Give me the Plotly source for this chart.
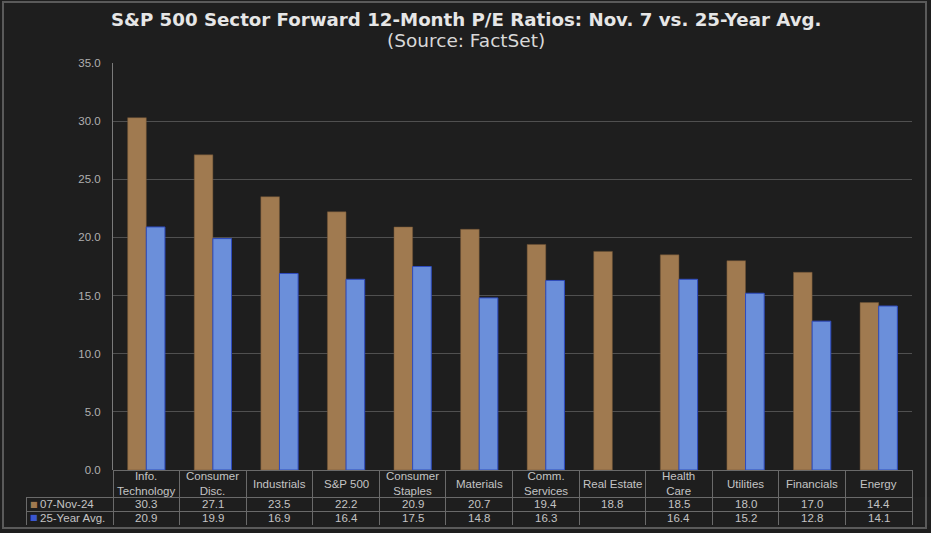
import plotly.graph_objects as go

W, H = 931, 533

categories = ["Info.<br>Technology", "Consumer<br>Disc.", "Industrials", "S&P 500",
              "Consumer<br>Staples", "Materials", "Comm.<br>Services", "Real Estate",
              "Health<br>Care", "Utilities", "Financials", "Energy"]
pe_nov7 = [30.3, 27.1, 23.5, 22.2, 20.9, 20.7, 19.4, 18.8, 18.5, 18.0, 17.0, 14.4]
pe_25yr = [20.9, 19.9, 16.9, 16.4, 17.5, 14.8, 16.3, None, 16.4, 15.2, 12.8, 14.1]
series_names = ["07-Nov-24", "25-Year Avg."]
y_ticks = [0, 5, 10, 15, 20, 25, 30, 35]

BG = "#1e1e1e"
BROWN = "#a07a50"
BLUE = "#6b8fda"
KEYBLUE = "#3a56d0"
GRID = "#505050"
TXT = "#b0b0b0"
CELLTXT = "#c4c4c4"
TLINE = "#6a6a6a"
CLEAR = "rgba(0,0,0,0)"
FONT = "Liberation Sans, Arial, sans-serif"

# plot geometry (pixels)
PL, PR, PT, PB = 113, 912, 63, 470
TL, TB = 26, 524
HEAD_H = 27
ROW_HS = [14, 13]

fig = go.Figure()
xs = list(range(len(categories)))
fig.add_trace(go.Bar(x=xs, y=pe_nov7, name=series_names[0],
                     marker=dict(color=BROWN, line=dict(color="#6e5234", width=0.5)),
                     showlegend=False))
fig.add_trace(go.Bar(x=xs, y=pe_25yr, name=series_names[1],
                     marker=dict(color=BLUE, line=dict(color="#2f4cbf", width=1)),
                     showlegend=False))

def fmt(v):
    return "" if v is None else f"{v:.1f}"

series_vals = [pe_nov7, pe_25yr]
ncol = len(categories) + 1
colw = [PL - TL] + [(PR - PL) / len(categories)] * len(categories)

# table grid (header row holds the category labels, two data rows)
fig.add_trace(go.Table(
    domain=dict(x=[TL / W, PR / W], y=[1 - (TB + 2) / H, 1 - PB / H]),
    columnwidth=colw,
    header=dict(values=[""] * ncol,
                height=HEAD_H,
                fill_color=[CLEAR] + [BG] * len(categories),
                line=dict(color=[CLEAR] + [TLINE] * len(categories), width=1)),
    cells=dict(values=[[""] * 2 for _ in range(ncol)],
               height=ROW_HS[0],
               fill_color=BG,
               line=dict(color=TLINE, width=1)),
))

annotations = [
    dict(text="<b>S&P 500 Sector Forward 12-Month P/E Ratios: Nov. 7 vs. 25-Year Avg.</b>",
         x=0.5, y=1 - 20 / H, xref="paper", yref="paper", yanchor="middle",
         showarrow=False,
         font=dict(family="DejaVu Sans, sans-serif", size=18.2, color="#e6e6e6")),
    dict(text="(Source: FactSet)",
         x=0.5, y=1 - 41 / H, xref="paper", yref="paper", yanchor="middle",
         showarrow=False,
         font=dict(family="DejaVu Sans, sans-serif", size=18.5, color="#d8d8d8")),
]
# category labels in the header row of the data table
for i, c in enumerate(categories):
    annotations.append(dict(text=c, x=i, xref="x", y=1 - (PB + HEAD_H / 2) / H,
                            yref="paper", yanchor="middle", showarrow=False,
                            align="center",
                            font=dict(family=FONT, size=11.5, color=CELLTXT)))
# data rows
row_centers = [PB + HEAD_H + ROW_HS[0] / 2, PB + HEAD_H + ROW_HS[0] + ROW_HS[1] / 2]
for r, (vals, name, keycol) in enumerate(zip(series_vals, series_names, [BROWN, KEYBLUE])):
    yc = 1 - row_centers[r] / H
    for i, v in enumerate(vals):
        if v is None:
            continue
        annotations.append(dict(text=fmt(v), x=i, xref="x", y=yc, yref="paper",
                                yanchor="middle", showarrow=False,
                                font=dict(family=FONT, size=11.5, color=CELLTXT)))
    annotations.append(dict(text=name, x=38 / W, xref="paper", xanchor="left",
                            y=yc, yref="paper", yanchor="middle", showarrow=False,
                            font=dict(family=FONT, size=11.5, color=CELLTXT)))
    annotations.append(dict(text="■", x=33.5 / W, xref="paper", xanchor="center",
                            y=yc, yref="paper", yanchor="middle", showarrow=False,
                            font=dict(family="DejaVu Sans, sans-serif", size=8, color=keycol)))

fig.update_layout(
    width=W, height=H,
    paper_bgcolor=BG, plot_bgcolor=BG,
    margin=dict(l=0, r=0, t=0, b=0, pad=0, autoexpand=False),
    barmode="group", bargap=0.44, bargroupgap=0.0,
    xaxis=dict(domain=[PL / W, PR / W], range=[-0.5, len(categories) - 0.5],
               showticklabels=False, showgrid=False, zeroline=False, showline=False),
    yaxis=dict(domain=[1 - PB / H, 1 - PT / H], range=[0, 35],
               tickvals=y_ticks, tickformat=".1f",
               showgrid=True, gridcolor=GRID, gridwidth=1,
               zeroline=False, showline=True, linecolor="#7a7a7a", linewidth=1,
               ticks="", ticklabelstandoff=9,
               tickfont=dict(family=FONT, size=11.5, color=TXT)),
    font=dict(family=FONT),
    annotations=annotations,
    shapes=[
        dict(type="rect", xref="paper", yref="paper", x0=3 / W, x1=926 / W,
             y0=1 - 528 / H, y1=1 - 2 / H, line=dict(color="#5a5a5a", width=2)),
    ],
)

fig.write_html("out.html",
               config={"displayModeBar": False},
               post_script="document.body.style.margin='0px';"
                           "document.body.style.background='#1e1e1e';")
